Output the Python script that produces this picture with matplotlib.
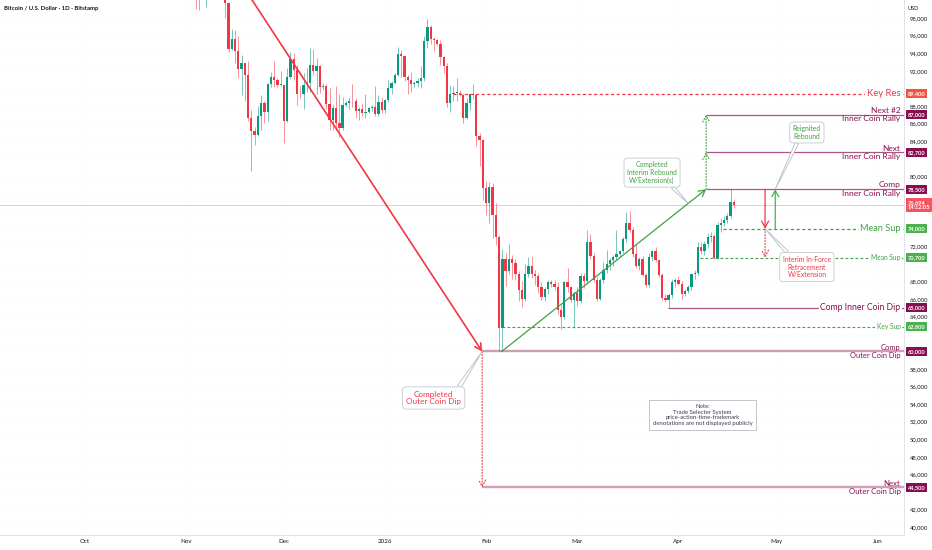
import datetime as dt

import matplotlib
matplotlib.use("Agg")
import matplotlib.pyplot as plt
import matplotlib.dates as mdates
from matplotlib.transforms import blended_transform_factory

plt.rcParams["font.family"] = ["Lato", "DejaVu Sans"]

# daily BTC/USD candles (thousands of USD), first one is 2025-11-03
first_day = dt.date(2025, 11, 3)
opens = [
    # Nov
    110.6, 106.5, 101.5, 103.9, 101.3, 103.4, 102.3, 104.7, 105.9, 103.1, 101.6, 99.7, 94.5, 95.6,
    94.2, 92.2, 92.9, 91.5, 86.6, 85.1, 84.7, 86.8, 88.3, 87.3, 90.5, 91.3, 90.9, 90.4,
    # Dec
    90.4, 86.3, 91.3, 93.4, 92.1, 89.4, 89.3, 90.4, 90.6, 92.7, 92.0, 92.5, 90.2, 90.3, 88.2, 86.4,
    87.8, 86.1, 85.5, 88.1, 88.3, 88.6, 88.5, 87.4, 87.6, 87.2, 87.3, 87.8, 87.9, 87.1, 88.4,
    # Jan
    87.5, 88.7, 90.0, 90.6, 91.5, 93.9, 93.7, 91.3, 91.0, 90.5, 90.6, 90.8, 91.2, 95.4, 97.0, 95.6,
    95.5, 95.1, 93.6, 92.6, 88.3, 89.4, 89.5, 89.5, 89.2, 86.6, 88.3, 89.3, 89.2, 84.6, 84.1,
    # Feb
    78.6, 76.9, 78.7, 75.6, 73.0, 62.7, 70.5, 69.2, 70.6, 70.1, 68.8, 67.0, 66.0, 68.8, 69.7, 68.8,
    68.6, 67.4, 66.2, 67.1, 67.9, 67.7, 67.4, 64.7, 63.9, 67.9, 67.3, 65.9,
    # Mar
    66.7, 65.7, 68.6, 68.0, 72.5, 70.9, 68.2, 66.0, 68.1, 69.3, 70.0, 70.4, 70.8, 71.1, 71.4, 72.8,
    74.7, 73.9, 71.1, 69.7, 70.5, 68.7, 67.6, 70.8, 71.4, 70.4, 68.7, 66.1, 65.9, 66.4, 67.9,
    # Apr
    68.2, 67.7, 66.6, 66.9, 67.3, 68.8, 69.0, 71.9, 71.4, 72.3, 73.0, 73.2, 70.7, 74.4, 74.7, 75.0,
    75.5, 77.0,
]
highs = [
    110.8, 106.6, 104.5, 104.2, 104.0, 103.5, 104.9, 106.6, 107.4, 105.3, 104.0, 99.8, 96.8, 96.6,
    96.0, 93.8, 92.9, 93.1, 87.5, 85.6, 88.0, 89.2, 88.5, 90.6, 91.9, 93.1, 91.2, 92.0,
    90.4, 92.3, 94.1, 94.0, 92.7, 90.3, 91.8, 92.3, 94.6, 94.5, 93.5, 92.7, 90.6, 90.5, 90.0, 88.1,
    90.3, 89.4, 89.0, 88.6, 89.0, 90.5, 88.9, 87.9, 88.2, 89.3, 87.9, 88.1, 90.3, 89.2, 89.0,
    88.8, 90.9, 90.8, 91.8, 94.7, 94.4, 93.7, 91.5, 91.9, 90.8, 91.2, 92.5, 96.0, 97.9, 97.2, 95.9,
    95.6, 95.5, 93.7, 92.9, 90.4, 90.3, 91.2, 89.8, 89.3, 88.9, 89.4, 90.5, 89.3, 84.9, 84.2,
    79.4, 79.3, 79.2, 76.9, 73.3, 71.7, 71.2, 72.2, 71.0, 70.6, 69.2, 68.0, 70.0, 70.8, 70.9, 69.3,
    69.0, 67.9, 67.4, 68.2, 68.2, 68.2, 67.9, 65.3, 68.0, 69.5, 67.5, 66.9,
    67.3, 69.0, 69.0, 73.8, 73.4, 71.2, 68.5, 68.4, 70.2, 71.6, 70.7, 71.0, 73.8, 71.6, 73.0, 75.9,
    76.0, 74.2, 72.3, 70.8, 70.9, 69.0, 71.2, 71.6, 71.9, 70.6, 68.9, 66.6, 66.7, 68.3, 68.4,
    68.6, 68.0, 67.1, 67.6, 69.0, 69.3, 72.5, 72.5, 72.6, 73.5, 73.6, 73.4, 74.8, 75.2, 75.4, 75.8,
    78.5, 77.3,
]
lows = [
    105.3, 99.0, 98.9, 100.3, 99.3, 101.4, 101.4, 104.3, 102.5, 100.8, 98.0, 94.1, 94.4, 92.9,
    91.2, 89.2, 88.6, 86.3, 80.6, 83.5, 84.6, 85.2, 86.1, 86.3, 90.1, 90.2, 90.2, 90.3,
    83.8, 86.2, 91.1, 90.9, 88.1, 88.9, 87.7, 89.6, 89.6, 91.6, 89.3, 89.5, 89.8, 87.6, 85.2, 85.3,
    85.3, 84.4, 85.2, 87.9, 87.6, 87.9, 86.6, 86.4, 86.9, 86.6, 87.2, 87.4, 86.8, 86.8, 87.2,
    87.2, 88.4, 89.3, 90.5, 91.4, 91.3, 90.8, 89.3, 89.6, 90.2, 90.1, 90.0, 90.8, 94.6, 95.1, 94.3,
    94.9, 92.7, 91.8, 87.9, 87.3, 88.5, 88.6, 89.1, 86.1, 86.5, 87.5, 88.8, 83.4, 81.1, 77.3,
    75.6, 74.6, 72.9, 72.1, 60.0, 60.1, 67.5, 68.8, 68.3, 68.2, 65.8, 65.1, 65.7, 68.5, 68.4, 67.6,
    66.7, 65.9, 65.8, 66.6, 67.4, 67.0, 64.3, 62.6, 63.7, 66.8, 65.6, 62.7,
    65.2, 65.5, 67.2, 67.8, 70.6, 67.9, 65.8, 65.9, 67.8, 69.0, 69.3, 69.8, 70.4, 70.8, 71.2, 72.5,
    73.6, 70.8, 69.5, 69.3, 68.6, 67.3, 67.4, 70.3, 70.2, 68.5, 65.9, 65.6, 65.0, 66.1, 67.3,
    67.6, 66.0, 66.3, 66.7, 67.0, 68.3, 68.7, 71.1, 71.0, 71.8, 72.5, 70.5, 70.5, 73.6, 74.3, 74.7,
    75.2, 76.4,
]
closes = [
    106.5, 101.5, 103.9, 101.3, 103.4, 102.3, 104.7, 105.9, 103.1, 101.6, 99.7, 94.5, 95.6, 94.2,
    92.2, 92.9, 91.5, 86.6, 85.1, 84.7, 86.8, 88.3, 87.3, 90.5, 91.3, 90.9, 90.4, 90.4,
    86.3, 91.3, 93.4, 92.1, 89.4, 89.3, 90.4, 90.6, 92.7, 92.0, 92.5, 90.2, 90.3, 88.2, 86.4, 87.8,
    86.1, 85.5, 88.1, 88.3, 88.6, 88.5, 87.4, 87.6, 87.2, 87.3, 87.8, 87.9, 87.1, 88.4, 87.5,
    88.7, 90.0, 90.6, 91.5, 93.9, 93.7, 91.3, 91.0, 90.5, 90.6, 90.8, 91.2, 95.4, 97.0, 95.6, 95.5,
    95.1, 93.6, 92.6, 88.3, 89.4, 89.5, 89.5, 89.2, 86.6, 88.3, 89.3, 89.2, 84.6, 84.1, 78.6,
    76.9, 78.7, 75.6, 73.0, 62.7, 70.5, 69.2, 70.6, 70.1, 68.8, 67.0, 66.0, 68.8, 69.7, 68.8, 68.6,
    67.4, 66.2, 67.1, 67.9, 67.7, 67.4, 64.7, 63.9, 67.9, 67.3, 65.9, 66.7,
    65.7, 68.6, 68.0, 72.5, 70.9, 68.2, 66.0, 68.1, 69.3, 70.0, 70.4, 70.8, 71.1, 71.4, 72.8, 74.7,
    73.9, 71.1, 69.7, 70.5, 68.7, 67.6, 70.8, 71.4, 70.4, 68.7, 66.1, 65.9, 66.4, 67.9, 68.2,
    67.7, 66.6, 66.9, 67.3, 68.8, 69.0, 71.9, 71.4, 72.3, 73.0, 73.2, 70.7, 74.4, 74.7, 75.0, 75.5,
    77.0, 76.7,
]
last_price = 76694
last_time = "14:12:05"

month_ticks = [dt.date(2025, 10, 1), dt.date(2025, 11, 1), dt.date(2025, 12, 1), dt.date(2026, 1, 1),
               dt.date(2026, 2, 1), dt.date(2026, 3, 1), dt.date(2026, 4, 1), dt.date(2026, 5, 1),
               dt.date(2026, 6, 1)]
month_labels = ["Oct", "Nov", "Dec", "2026", "Feb", "Mar", "Apr", "May", "Jun"]
price_ticks = list(range(40000, 98001, 2000))

# drawn levels: price, where the line starts
key_res, key_res_start = 89400, dt.datetime(2026, 1, 22)
next2_rally, next_rally, comp_rally = 87000, 82700, 78500
rally_start = dt.datetime(2026, 4, 9, 12)
mean_sup, mean_sup_start = 74000, dt.datetime(2026, 4, 14, 16)
mean_sup2, mean_sup2_start = 70700, dt.datetime(2026, 4, 7, 14)
comp_inner_dip, comp_inner_dip_start = 65000, dt.datetime(2026, 3, 28, 17)
key_sup, key_sup_start = 62800, dt.datetime(2026, 2, 5, 19)
comp_outer_dip, next_outer_dip = 60000, 44500
outer_dip_start = dt.datetime(2026, 1, 30, 19)

RED = "#f23645"
TEAL = "#089981"
WINE = "#880e4f"
GREEN = "#43a047"
TAG_GREEN = "#4caf50"
TXT = "#131722"


def num(t):
    return mdates.date2num(t)


fig = plt.figure(figsize=(9.32, 5.5), dpi=100)
ax = fig.add_axes([0, 15 / 550, 904 / 932, 535 / 550])
origin = num(dt.date(2025, 10, 1))
ax.set_xlim(origin - 26.1, origin + 251.2)
ax.set_ylim(39080, 100070)

# candles
days = [num(first_day + dt.timedelta(days=i)) for i in range(len(closes))]
colors = [TEAL if c >= o else RED for o, c in zip(opens, closes)]
ax.vlines(days, [v * 1000 for v in lows], [v * 1000 for v in highs], colors=colors,
          lw=0.7, alpha=0.55, zorder=2)
bottoms = [min(o, c) * 1000 for o, c in zip(opens, closes)]
heights = [max(abs(c - o) * 1000, 90) for o, c in zip(opens, closes)]
ax.bar(days, heights, bottom=bottoms, width=0.7, color=colors, linewidth=0, zorder=3)

ax.axhline(last_price, color=RED, lw=0.6, alpha=0.35, zorder=1)

xmax = ax.get_xlim()[1]
blend = blended_transform_factory(ax.transAxes, ax.transData)

# level lines
ax.hlines(key_res, num(key_res_start), xmax, color=RED, lw=0.9, ls=(0, (2.5, 2)), zorder=4)
for p in (next2_rally, next_rally, comp_rally):
    ax.hlines(p, num(rally_start), xmax, color=WINE, lw=0.9, alpha=0.7, zorder=4)
ax.hlines(mean_sup, num(mean_sup_start), xmax, color=GREEN, lw=0.9, ls=(0, (2.5, 2)), zorder=4)
ax.hlines(mean_sup2, num(mean_sup2_start), xmax, color=GREEN, lw=0.8, ls=(0, (2.5, 2)), zorder=4)
ax.hlines(comp_inner_dip, num(comp_inner_dip_start), xmax, color=WINE, lw=0.9, alpha=0.7, zorder=4)
ax.hlines(key_sup, num(key_sup_start), xmax, color=GREEN, lw=0.8, ls=(0, (2.5, 2)), zorder=4)
for p in (comp_outer_dip, next_outer_dip):
    ax.hlines(p, num(outer_dip_start), xmax, color=WINE, lw=1.7, alpha=0.4, zorder=4)


def arrow(x0, y0, x1, y1, color, lw=1.0, ls="-"):
    ax.annotate("", xy=(x1, y1), xytext=(x0, y0), zorder=5,
                arrowprops=dict(arrowstyle="->,head_length=0.45,head_width=0.25", color=color,
                                lw=lw, ls=ls, shrinkA=0, shrinkB=0))


arrow(num(dt.date(2025, 11, 15)), 103600, num(outer_dip_start), comp_outer_dip, RED, lw=1.2)
arrow(num(outer_dip_start), comp_outer_dip, num(outer_dip_start), next_outer_dip, RED, lw=0.8, ls=":")
arrow(num(key_sup_start), comp_outer_dip, num(rally_start), comp_rally, GREEN, lw=0.9)
arrow(num(rally_start), comp_rally, num(rally_start), next_rally, GREEN, lw=0.8, ls=":")
arrow(num(rally_start), next_rally, num(rally_start), next2_rally, GREEN, lw=0.8, ls=":")
retr_x = num(dt.datetime(2026, 4, 27, 14))
arrow(retr_x, comp_rally, retr_x, mean_sup, RED, lw=0.9)
arrow(retr_x, mean_sup, retr_x, mean_sup2, RED, lw=0.8, ls=":")
reig_x = num(dt.datetime(2026, 4, 30, 17))
arrow(reig_x, mean_sup, reig_x, comp_rally, TAG_GREEN, lw=0.9)


# right-hand labels
def flat_label(price, text, color, size):
    ax.text(0.996, price, text, transform=blend, ha="right", va="center", color=color,
            fontsize=size, zorder=6, bbox=dict(fc="white", ec="none", pad=1.0))


def split_label(price, top, bottom, color=WINE, size=6):
    ax.annotate(top, xy=(0.996, price), xycoords=blend, xytext=(0, 0.6), textcoords="offset points",
                ha="right", va="bottom", color=color, fontsize=size, zorder=6)
    ax.annotate(bottom, xy=(0.996, price), xycoords=blend, xytext=(0, -0.4), textcoords="offset points",
                ha="right", va="top", color=color, fontsize=size, zorder=6)


flat_label(key_res, "Key Res", RED, 6.8)
split_label(next2_rally, "Next #2", "Inner Coin Rally")
split_label(next_rally, "Next", "Inner Coin Rally")
split_label(comp_rally, "Comp", "Inner Coin Rally")
flat_label(mean_sup, "Mean Sup", GREEN, 6.6)
flat_label(mean_sup2, "Mean Sup", GREEN, 4.8)
flat_label(comp_inner_dip, "Comp Inner Coin Dip", WINE, 6.2)
flat_label(key_sup, "Key Sup", GREEN, 4.8)
split_label(comp_outer_dip, "Comp", "Outer Coin Dip", size=5.4)
split_label(next_outer_dip, "Next", "Outer Coin Dip", size=5.6)


def tag(price, text, color):
    ax.text(1.004, price, text, transform=blend, ha="left", va="center", color="white",
            fontsize=4.1, fontweight="bold", linespacing=1.1, clip_on=False, zorder=10,
            bbox=dict(boxstyle="square,pad=0.35", fc=color, ec="none"))


tag_prices = [key_res, next2_rally, next_rally, comp_rally, comp_inner_dip, comp_outer_dip,
              next_outer_dip, mean_sup, mean_sup2, key_sup, last_price]
tag(key_res, f"{key_res:,}", "#f0553f")
for p in (next2_rally, next_rally, comp_rally, comp_inner_dip, comp_outer_dip, next_outer_dip):
    tag(p, f"{p:,}", WINE)
for p in (mean_sup, mean_sup2, key_sup):
    tag(p, f"{p:,}", TAG_GREEN)
tag(last_price, f"{last_price:,}\n{last_time}", "#f7525f")


# callouts
def callout(text, target, center, color, size, rel):
    ax.annotate(text, xy=target, xytext=center, ha="center", va="center", color=color,
                fontsize=size, linespacing=1.15, zorder=7,
                bbox=dict(boxstyle="round,pad=0.45,rounding_size=0.5", fc="white", ec="#c5c8d0", lw=0.6),
                arrowprops=dict(arrowstyle="wedge,tail_width=0.5,shrink_factor=0.5", fc="white",
                                ec="#b8bcc6", lw=0.6, relpos=rel, shrinkA=0, shrinkB=0))


callout("Completed\nOuter Coin Dip", (num(outer_dip_start), comp_outer_dip),
        (num(dt.datetime(2026, 1, 15, 22)), 54700), RED, 5.9, (0.92, 1.0))
callout("Completed\nInterim Rebound\nW/Extension(s)", (num(dt.datetime(2026, 4, 4)), 76900),
        (num(dt.datetime(2026, 3, 23, 22)), 80400), GREEN, 4.9, (0.85, 0.0))
callout("Reignited\nRebound", (reig_x, comp_rally),
        (num(dt.datetime(2026, 5, 10, 10)), 84970), GREEN, 4.9, (0.2, 0.0))
callout("Interim In-Force\nRetracement\nW/Extension", (retr_x, mean_sup),
        (num(dt.datetime(2026, 5, 10, 10)), 69630), RED, 4.9, (0.15, 1.0))

ax.text(num(dt.datetime(2026, 4, 8, 10)), 52760,
        "Note:\nTrade Selecter System\nprice-action-time-trademark\ndenotations are not displayed publicly",
        ha="center", va="center", fontsize=4.3, color="#3a3e4a", linespacing=1.2, zorder=7,
        bbox=dict(boxstyle="square,pad=0.6", fc="white", ec="#b8bcc6", lw=0.6))

# axes styling; price labels hidden where a tag sits on top of them
ax.yaxis.tick_right()
ax.set_yticks(price_ticks)
ax.set_yticklabels(["" if min(abs(v - p) for p in tag_prices) < 850 else f"{v:,}"
                    for v in price_ticks])
ax.set_xticks([num(t) for t in month_ticks])
ax.set_xticklabels(month_labels)
ax.tick_params(axis="y", length=0, pad=4, labelsize=4.2, labelcolor=TXT)
ax.tick_params(axis="x", length=0, pad=3, labelsize=4.5, labelcolor=TXT)
ax.grid(color="#fafbfc", lw=0.5, zorder=0)
ax.set_axisbelow(True)
for side in ("top", "left"):
    ax.spines[side].set_visible(False)
for side in ("right", "bottom"):
    ax.spines[side].set_color("#e0e3eb")
    ax.spines[side].set_linewidth(0.7)

ax.text(0.004, 0.985, "Bitcoin / U.S. Dollar · 1D · Bitstamp", transform=ax.transAxes,
        fontsize=4.3, color=TXT, va="center", ha="left", fontweight="bold")
fig.text(913 / 932, 1 - 8 / 550, "USD", fontsize=4, color=TXT, ha="center", va="center")

fig.savefig("out.png", dpi=100, facecolor="white")
